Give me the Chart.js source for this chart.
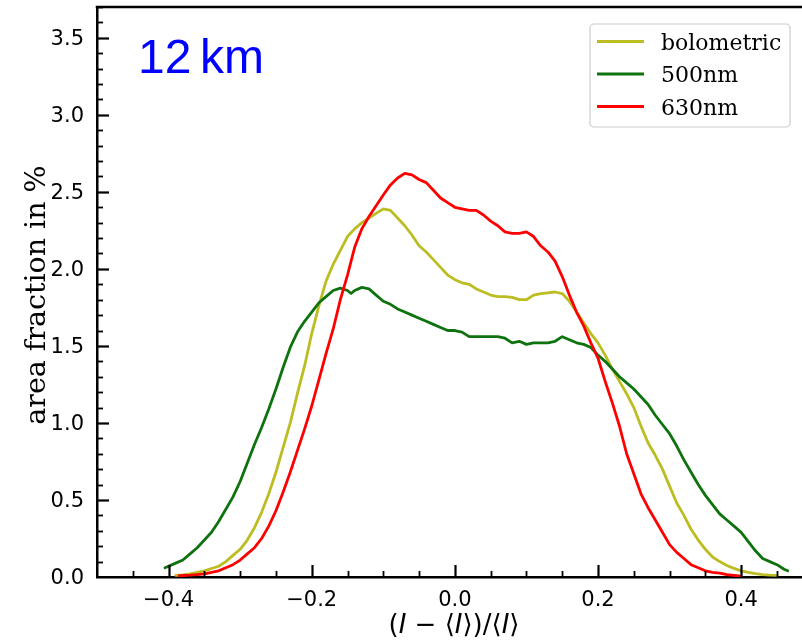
<!DOCTYPE html>
<html>
<head>
<meta charset="utf-8">
<script src="https://cdn.jsdelivr.net/npm/chart.js@4.4.1/dist/chart.umd.min.js"></script>
<style>
  html, body { margin: 0; padding: 0; background: #fff; overflow: hidden; }
  canvas { display: block; }
</style>
</head>
<body>
<canvas id="c" width="802" height="643"></canvas>
<script>
// ---------- data ----------
const seriesLabels = ['bolometric', '500nm', '630nm'];

const xBolo = [-0.39,-0.38,-0.37,-0.36,-0.35,-0.34,-0.33,-0.32,-0.31,-0.30,-0.29,-0.28,-0.27,-0.26,-0.25,-0.24,-0.23,-0.22,-0.21,-0.20,-0.19,-0.18,-0.17,-0.16,-0.15,-0.14,-0.13,-0.12,-0.11,-0.10,-0.09,-0.08,-0.07,-0.06,-0.05,-0.04,-0.03,-0.02,-0.01,0.00,0.01,0.02,0.03,0.04,0.05,0.06,0.07,0.08,0.09,0.10,0.11,0.12,0.13,0.14,0.15,0.16,0.17,0.18,0.19,0.20,0.21,0.22,0.23,0.24,0.25,0.26,0.27,0.28,0.29,0.30,0.31,0.32,0.33,0.34,0.35,0.36,0.37,0.38,0.39,0.40,0.41,0.42,0.43,0.44,0.45];
const yBolo = [0.01,0.013,0.02,0.03,0.04,0.055,0.07,0.10,0.14,0.18,0.24,0.32,0.42,0.54,0.68,0.84,1.00,1.19,1.37,1.58,1.76,1.92,2.03,2.12,2.21,2.26,2.30,2.33,2.36,2.39,2.38,2.33,2.28,2.22,2.15,2.11,2.06,2.01,1.96,1.93,1.91,1.90,1.87,1.85,1.83,1.82,1.82,1.815,1.80,1.80,1.83,1.84,1.845,1.85,1.84,1.79,1.72,1.65,1.58,1.52,1.44,1.35,1.27,1.19,1.10,0.98,0.87,0.79,0.70,0.59,0.48,0.40,0.31,0.24,0.18,0.13,0.10,0.075,0.056,0.04,0.03,0.022,0.016,0.012,0.01];

const x500 = [-0.405,-0.39,-0.38,-0.37,-0.36,-0.35,-0.34,-0.33,-0.32,-0.31,-0.30,-0.29,-0.28,-0.27,-0.26,-0.25,-0.24,-0.23,-0.22,-0.21,-0.20,-0.19,-0.18,-0.17,-0.16,-0.15,-0.145,-0.14,-0.13,-0.12,-0.11,-0.10,-0.09,-0.08,-0.07,-0.06,-0.05,-0.04,-0.03,-0.02,-0.01,0.00,0.01,0.02,0.03,0.04,0.05,0.06,0.07,0.08,0.09,0.10,0.11,0.12,0.13,0.14,0.15,0.16,0.17,0.18,0.19,0.20,0.21,0.22,0.23,0.24,0.25,0.26,0.27,0.28,0.29,0.30,0.31,0.32,0.33,0.34,0.35,0.36,0.37,0.38,0.39,0.40,0.41,0.42,0.43,0.44,0.45,0.46,0.465];
const y500 = [0.06,0.09,0.11,0.15,0.19,0.24,0.29,0.36,0.44,0.52,0.62,0.74,0.86,0.97,1.09,1.22,1.36,1.49,1.59,1.66,1.72,1.78,1.82,1.86,1.875,1.86,1.84,1.86,1.88,1.87,1.83,1.79,1.77,1.74,1.72,1.70,1.68,1.66,1.64,1.62,1.60,1.60,1.59,1.56,1.56,1.56,1.56,1.56,1.55,1.52,1.53,1.51,1.52,1.52,1.52,1.53,1.56,1.54,1.52,1.51,1.49,1.44,1.40,1.35,1.30,1.26,1.22,1.17,1.12,1.05,0.99,0.93,0.85,0.76,0.68,0.60,0.53,0.47,0.41,0.37,0.33,0.29,0.23,0.17,0.12,0.10,0.08,0.05,0.04];

const x630 = [-0.385,-0.37,-0.36,-0.35,-0.34,-0.33,-0.32,-0.31,-0.30,-0.29,-0.28,-0.27,-0.26,-0.25,-0.24,-0.23,-0.22,-0.21,-0.20,-0.19,-0.18,-0.17,-0.16,-0.15,-0.14,-0.13,-0.12,-0.11,-0.10,-0.09,-0.08,-0.07,-0.06,-0.05,-0.04,-0.03,-0.02,-0.01,0.00,0.01,0.02,0.03,0.04,0.05,0.06,0.07,0.08,0.09,0.10,0.11,0.12,0.13,0.14,0.15,0.16,0.17,0.18,0.19,0.20,0.21,0.22,0.23,0.24,0.25,0.26,0.27,0.28,0.29,0.30,0.31,0.32,0.33,0.34,0.35,0.36,0.37,0.38,0.39,0.40];
const y630 = [0.008,0.012,0.016,0.02,0.03,0.04,0.06,0.08,0.11,0.15,0.19,0.25,0.33,0.43,0.55,0.68,0.82,0.96,1.11,1.28,1.45,1.61,1.80,1.96,2.14,2.26,2.34,2.41,2.48,2.545,2.59,2.62,2.61,2.58,2.56,2.51,2.46,2.43,2.40,2.39,2.38,2.38,2.35,2.31,2.28,2.24,2.23,2.23,2.24,2.21,2.15,2.11,2.05,1.95,1.83,1.72,1.63,1.52,1.42,1.27,1.13,0.98,0.80,0.67,0.54,0.45,0.37,0.29,0.21,0.16,0.12,0.08,0.06,0.04,0.03,0.025,0.015,0.01,0.006];

const xTickValues = [-0.4, -0.2, 0.0, 0.2, 0.4];
const xTickLabels = ['\u22120.4', '\u22120.2', '0.0', '0.2', '0.4'];
const yTickValues = [0.0, 0.5, 1.0, 1.5, 2.0, 2.5, 3.0, 3.5];
const yTickLabels = ['0.0', '0.5', '1.0', '1.5', '2.0', '2.5', '3.0', '3.5'];

const yAxisTitle = 'area fraction in %';
const panelLabel = ['12', 'km'];

// ---------- styles ----------
const colors = ['#bcbd22', '#0e730e', '#ff0000'];

function pts(xs, ys) { return xs.map((x, i) => ({ x: x, y: ys[i] })); }

const decorPlugin = {
  id: 'decor',
  afterDraw(chart) {
    const ctx = chart.ctx;
    const xs = chart.scales.x, ys = chart.scales.y;
    const area = chart.chartArea;
    ctx.save();
    ctx.strokeStyle = '#000';
    // top spine
    ctx.lineWidth = 2.5;
    ctx.beginPath();
    ctx.moveTo(area.left - 1.25, area.top);
    ctx.lineTo(area.right, area.top);
    ctx.stroke();

    // inward ticks
    const drawXTick = (v, len, w) => {
      const px = Math.round(xs.getPixelForValue(v)) + 0.5;
      ctx.lineWidth = w;
      ctx.beginPath();
      ctx.moveTo(px, area.bottom);
      ctx.lineTo(px, area.bottom - len);
      ctx.stroke();
    };
    const drawYTick = (v, len, w) => {
      const py = Math.round(ys.getPixelForValue(v)) + 0.5;
      ctx.lineWidth = w;
      ctx.beginPath();
      ctx.moveTo(area.left, py);
      ctx.lineTo(area.left + len, py);
      ctx.stroke();
    };
    for (let k = -9; k <= 9; k++) {
      const v = k * 0.05;
      if (v < xs.min || v > xs.max) continue;
      if (k % 4 === 0) continue;
      drawXTick(v, 6, 1.8);
    }
    xTickValues.forEach(v => drawXTick(v, 12, 2.2));
    for (let k = 1; k <= 37; k++) {
      if (k % 5 === 0) continue;
      drawYTick(k * 0.1, 6, 1.8);
    }
    yTickValues.forEach(v => { if (v > 0) drawYTick(v, 12, 2.2); });

    // y-axis title
    ctx.save();
    ctx.fillStyle = '#000';
    ctx.font = '28.5px "DejaVu Serif"';
    ctx.textAlign = 'center';
    ctx.textBaseline = 'alphabetic';
    ctx.translate(45, 295);
    ctx.rotate(-Math.PI / 2);
    ctx.fillText(yAxisTitle, 0, 0);
    ctx.restore();

    // x-axis title with italic I
    const segs = [
      ['(', false], ['I', true], [' \u2212 \u27E8', false], ['I', true],
      ['\u27E9)/\u27E8', false], ['I', true], ['\u27E9', false]
    ];
    const fs = 26;
    let total = 0;
    segs.forEach(s => {
      ctx.font = (s[1] ? 'italic ' : '') + fs + 'px "DejaVu Sans"';
      s.push(ctx.measureText(s[0]).width);
      total += s[2];
    });
    let cx = 454 - total / 2;
    ctx.fillStyle = '#000';
    ctx.textAlign = 'left';
    ctx.textBaseline = 'alphabetic';
    segs.forEach(s => {
      ctx.font = (s[1] ? 'italic ' : '') + fs + 'px "DejaVu Sans"';
      ctx.fillText(s[0], cx, 633);
      cx += s[2];
    });

    // panel label
    ctx.fillStyle = '#0000ff';
    ctx.font = '48px "Liberation Sans"';
    ctx.fillText(panelLabel[0], 138, 73);
    ctx.fillText(panelLabel[1], 200, 73);

    // legend
    const lx = 590, ly = 24, lw = 200, lh = 103, r = 4;
    ctx.beginPath();
    ctx.moveTo(lx + r, ly);
    ctx.arcTo(lx + lw, ly, lx + lw, ly + lh, r);
    ctx.arcTo(lx + lw, ly + lh, lx, ly + lh, r);
    ctx.arcTo(lx, ly + lh, lx, ly, r);
    ctx.arcTo(lx, ly, lx + lw, ly, r);
    ctx.closePath();
    ctx.fillStyle = 'rgba(255,255,255,0.8)';
    ctx.fill();
    ctx.strokeStyle = '#cccccc';
    ctx.lineWidth = 1.2;
    ctx.stroke();
    const rowY = [41.5, 74, 106.5];
    chart.data.datasets.forEach((ds, i) => {
      ctx.strokeStyle = ds.borderColor;
      ctx.lineWidth = 2.8;
      ctx.beginPath();
      ctx.moveTo(597, rowY[i]);
      ctx.lineTo(644, rowY[i]);
      ctx.stroke();
      ctx.fillStyle = '#000';
      ctx.font = '22px "DejaVu Serif"';
      ctx.textBaseline = 'alphabetic';
      ctx.fillText(ds.label, 661, rowY[i] + 8);
    });
    ctx.restore();
  }
};

const chart = new Chart(document.getElementById('c'), {
  type: 'line',
  data: {
    datasets: [
      { label: seriesLabels[0], data: pts(xBolo, yBolo), borderColor: colors[0], order: 3 },
      { label: seriesLabels[1], data: pts(x500, y500), borderColor: colors[1], order: 2 },
      { label: seriesLabels[2], data: pts(x630, y630), borderColor: colors[2], order: 1 }
    ]
  },
  options: {
    responsive: false,
    devicePixelRatio: 1,
    animation: false,
    events: [],
    elements: {
      point: { radius: 0 },
      line: { borderWidth: 2.8, tension: 0, fill: false, borderJoinStyle: 'round', borderCapStyle: 'round' }
    },
    layout: { padding: { left: 0, top: 7, right: 0, bottom: 0 } },
    plugins: { legend: { display: false }, tooltip: { enabled: false } },
    scales: {
      x: {
        type: 'linear',
        min: -0.5,
        max: 0.485,
        grid: { display: false, drawTicks: false },
        border: { display: true, color: '#000', width: 2.5 },
        afterBuildTicks: (s) => { s.ticks = xTickValues.map(v => ({ value: v })); },
        afterFit: (s) => { s.height = 66; s.paddingLeft = 0; s.paddingRight = 0; },
        ticks: {
          autoSkip: false,
          maxRotation: 0,
          padding: 11,
          color: '#000',
          font: { family: 'DejaVu Sans', size: 21 },
          callback: (v) => { const i = xTickValues.findIndex(t => Math.abs(t - v) < 1e-9); return i >= 0 ? xTickLabels[i] : ''; }
        }
      },
      y: {
        type: 'linear',
        min: 0,
        max: 3.7,
        grid: { display: false, drawTicks: false },
        border: { display: true, color: '#000', width: 2.5 },
        afterBuildTicks: (s) => { s.ticks = yTickValues.map(v => ({ value: v })); },
        afterFit: (s) => { s.width = 97; s.paddingTop = 0; s.paddingBottom = 0; },
        ticks: {
          autoSkip: false,
          padding: 13,
          labelOffset: 2,
          color: '#000',
          font: { family: 'DejaVu Sans', size: 21 },
          callback: (v) => { const i = yTickValues.findIndex(t => Math.abs(t - v) < 1e-9); return i >= 0 ? yTickLabels[i] : ''; }
        }
      }
    }
  },
  plugins: [decorPlugin]
});
</script>
</body>
</html>
